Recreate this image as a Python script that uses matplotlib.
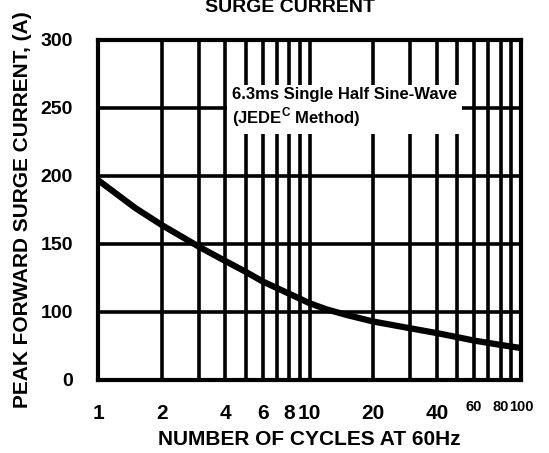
import numpy as np
import matplotlib
matplotlib.use("Agg")
from matplotlib import pyplot as plt

plt.rcParams['font.family'] = ['Liberation Sans', 'DejaVu Sans']
plt.rcParams['font.weight'] = 'bold'
plt.rcParams['mathtext.fontset'] = 'custom'
plt.rcParams['mathtext.rm'] = 'Liberation Sans:bold'
plt.rcParams['mathtext.bf'] = 'Liberation Sans:bold'

# curve
cycles = [1, 1.5, 2, 3, 4, 5, 6, 8, 10, 12, 15, 20, 30, 40, 50, 60, 80, 100]
current = [197, 176.5, 164, 148, 137.5, 129.5, 122.5, 113.5, 106.5, 102, 97.8, 93,
           88, 84.5, 81.5, 79, 75.8, 73.5]

# grid / tick labels
x_grid = [1, 2, 3, 4, 5, 6, 7, 8, 9, 10, 20, 30, 40, 50, 60, 70, 80, 90, 100]
x_labels = ['1', '2', '', '4', '', '6', '', '8', '', '10',
            '20', '', '40', '', '60', '', '80', '', '100']
y_grid = [50, 100, 150, 200, 250, 300]
y_labels = ['0', '100', '150', '200', '250', '300']

fig = plt.figure(figsize=(5.49, 4.53), dpi=100)
ax = fig.add_axes([98/549, 1-380/453, 423/549, 340/453])

ax.set_xscale('log')
ax.set_xlim(1, 100)
ax.set_ylim(50, 300)
ax.set_xticks(x_grid)
ax.set_xticklabels(x_labels)
ax.xaxis.set_minor_locator(matplotlib.ticker.NullLocator())
ax.set_yticks(y_grid)
ax.set_yticklabels(y_labels)
ax.tick_params(length=0, labelsize=14)
ax.tick_params(axis='x', pad=17, labelsize=15)
ax.tick_params(axis='y', pad=18)
# the last three x labels are smaller, as in the original
for lbl in ax.get_xticklabels()[14:]:
    lbl.set_fontsize(10.5)
    lbl.set_y(0.01)
ax.grid(True, color='black', linewidth=2.6)
for s in ax.spines.values():
    s.set_linewidth(3)
    s.set_color('black')

ax.plot(cycles, current, color='black', linewidth=4.5, solid_capstyle='butt')

ax.text(0.317, 0.80, "6.3ms Single Half Sine-Wave\n(JEDE$^{\\mathrm{C}}$ Method)",
        transform=ax.transAxes, fontsize=12, fontweight='bold', va='center', ha='left',
        linespacing=1.15,
        bbox=dict(facecolor='white', edgecolor='none', boxstyle='square,pad=0.3'))

ax.set_xlabel("NUMBER OF CYCLES AT 60Hz", fontsize=15, fontweight='bold', labelpad=5)
ax.set_ylabel("PEAK FORWARD SURGE CURRENT, (A)", fontsize=15, fontweight='bold', labelpad=6)
fig.text(0.528, 0.973, "SURGE CURRENT", ha='center', va='baseline', fontsize=14, fontweight='bold')

fig.savefig("out.png", dpi=100)
